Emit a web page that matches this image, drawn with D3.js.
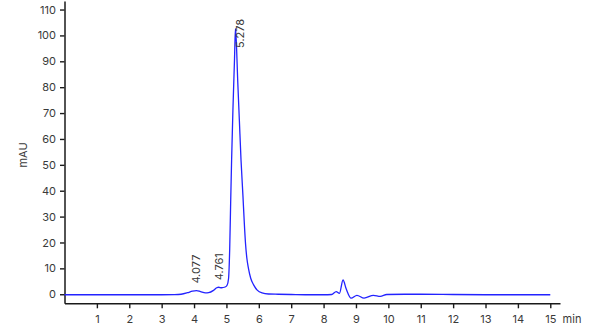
<!DOCTYPE html>
<html>
<head>
<meta charset="utf-8">
<script src="https://cdn.jsdelivr.net/npm/d3@7"></script>
<style>
  body { margin: 0; background: #fff; }
  text { font-family: Inter, "Noto Sans", sans-serif; }
</style>
</head>
<body>
<div class="chart"></div>
<script>
// Chromatogram readings (retention time in min, absorbance in mAU)
const times = [0, 0.5, 1, 1.5, 2, 2.5, 3, 3.4, 3.6, 3.8, 3.95, 4.077, 4.2, 4.35, 4.45, 4.6, 4.7, 4.761, 4.85, 4.96,
  5.02, 5.065, 5.1, 5.13, 5.16, 5.2, 5.25, 5.278, 5.3, 5.35, 5.4, 5.45, 5.51, 5.55, 5.59, 5.63, 5.68, 5.75, 5.84, 5.95,
  6.1, 6.3, 6.6, 7, 7.5, 8, 8.25, 8.39, 8.49, 8.6, 8.7, 8.85, 9.03, 9.25, 9.54, 9.75, 9.95, 10.5, 11, 12, 13, 14, 15];
const absorbance = [-0.2, -0.2, -0.2, -0.2, -0.2, -0.2, -0.2, -0.15, 0, 0.6, 1.2, 1.4, 1.0, 0.5, 0.6, 1.5, 2.5, 2.7, 2.5, 2.8,
  3.5, 6, 17, 35, 52, 71, 91, 102.6, 99, 82, 67, 52, 38, 28, 19.5, 14, 10, 6.2, 3.6, 1.6,
  0.5, 0.1, 0, -0.1, -0.2, -0.2, -0.1, 1.0, 0.3, 5.5, 2, -1.5, -0.4, -1.5, -0.4, -0.8, -0.1, 0, 0, -0.1, -0.2, -0.2, -0.2];

// Labelled peaks
const peakTimes = [4.077, 4.761, 5.278];
const peakValues = [1.4, 2.7, 102.6];
const peakLabels = ["4.077", "4.761", "5.278"];

// Axis ticks
const xTicks = [1, 2, 3, 4, 5, 6, 7, 8, 9, 10, 11, 12, 13, 14, 15];
const yTicks = [0, 10, 20, 30, 40, 50, 60, 70, 80, 90, 100, 110];

const margin = { top: 1, right: 40, bottom: 26.7, left: 64.5 };
const width = 600 - margin.left - margin.right;
const height = 330 - margin.top - margin.bottom;

const svg = d3.select(".chart")
    .append("svg")
    .attr("width", 600)
    .attr("height", 330)
    .append("g")
    .attr("transform", `translate(${margin.left}, ${margin.top})`);

const xScale = d3.scaleLinear().domain([0, 15.3]).range([0, width]);
const yScale = d3.scaleLinear().domain([-3.5, 113.3]).range([height, 0]);

// x axis
const xAxis = svg.append("g")
    .attr("transform", `translate(0, ${height})`)
    .call(d3.axisBottom(xScale).tickValues(xTicks).tickSize(5).tickSizeOuter(0).tickPadding(7));

// y axis
const yAxis = svg.append("g")
    .call(d3.axisLeft(yScale).tickValues(yTicks).tickSize(4.5).tickSizeOuter(0).tickPadding(4));

[xAxis, yAxis].forEach(ax => {
    ax.select(".domain").attr("stroke", "#1a1a1a").attr("stroke-width", 1.5);
    ax.selectAll(".tick line").attr("stroke", "#1a1a1a").attr("stroke-width", 1.4);
    ax.selectAll(".tick text")
        .attr("fill", "#3a3a3a")
        .style("font-size", "11px")
        .style("font-family", "Inter, 'Noto Sans', sans-serif");
});

// axis titles
svg.append("text")
    .attr("x", 572 - margin.left)
    .attr("y", height + 16)
    .attr("dy", "0.35em")
    .attr("text-anchor", "middle")
    .attr("fill", "#3a3a3a")
    .style("font-size", "11px")
    .text("min");

svg.append("text")
    .attr("transform", `translate(${23 - margin.left}, ${155 - margin.top}) rotate(-90)`)
    .attr("dy", "0.35em")
    .attr("text-anchor", "middle")
    .attr("fill", "#3a3a3a")
    .style("font-size", "11px")
    .text("mAU");

// trace
const line = d3.line()
    .x((d, i) => xScale(times[i]))
    .y(d => yScale(d))
    .curve(d3.curveMonotoneX);

svg.append("path")
    .datum(absorbance)
    .attr("fill", "none")
    .attr("stroke", "#2323ff")
    .attr("stroke-width", 1.3)
    .attr("d", line);

// peak labels, rotated; pushed down when they would run off the top
peakLabels.forEach((label, i) => {
    const px = xScale(peakTimes[i]);
    const py = yScale(peakValues[i]) - 7;
    const clamped = py < 47;
    svg.append("text")
        .attr("transform", `translate(${px + (clamped ? 5 : 0)}, ${clamped ? 47 : py}) rotate(-90)`)
        .attr("dy", "0.35em")
        .attr("fill", "#3a3a3a")
        .style("font-size", "11px")
        .text(label);
});
</script>
</body>
</html>
